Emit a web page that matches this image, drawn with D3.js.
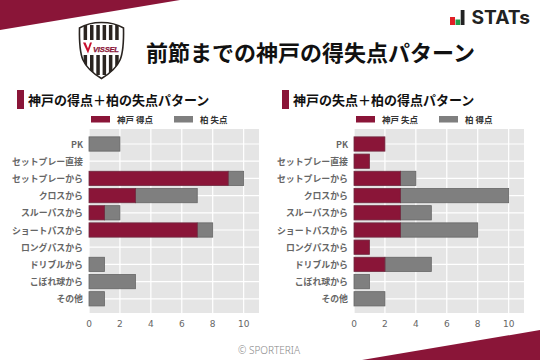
<!DOCTYPE html>
<html><head><meta charset="utf-8">
<script src="https://cdn.jsdelivr.net/npm/d3@7"></script>
<style>html,body{margin:0;padding:0;background:#fff}svg{display:block}text{font-family:"Noto Sans CJK JP","Noto Sans",sans-serif}</style>
</head><body><svg id="c" width="540" height="360"></svg>
<script>
const categories=["PK","セットプレー直接","セットプレーから","クロスから","スルーパスから","ショートパスから","ロングパスから","ドリブルから","こぼれ球から","その他"];
const xTicks=[0,2,4,6,8,10];
const leftKobe=[0,0,9,3,1,7,0,0,0,0];
const leftKashiwa=[2,0,1,4,1,1,0,1,3,1];
const rightKobe=[2,1,3,3,3,3,1,2,0,0];
const rightKashiwa=[0,0,1,7,2,5,0,3,1,2];
const maroon="#8a1538",grey="#7f7f7f";
const svg=d3.select("#c");
svg.append("path").attr("d","M0,0H180L0,30Z").attr("fill",maroon);
svg.append("path").attr("d","M540,330L362,360H540Z").attr("fill",maroon);

// crest
const crest=svg.append("g").attr("transform","translate(79,22)");
const shield="M22.5,0.5C30,0.5 38,2 44.5,6C44.8,20 44.5,30 41,38C37.5,46 30,52 22.5,56.5C15,52 7.5,46 4,38C0.5,30 0.2,20 0.5,6C7,2 15,0.5 22.5,0.5Z";
crest.append("defs").append("clipPath").attr("id","sh").append("path").attr("d",shield);
crest.append("path").attr("d",shield).attr("fill","#fff").attr("stroke","#2a2420").attr("stroke-width",1.6);
const inner=crest.append("g").attr("clip-path","url(#sh)");
[4.6,11,17.3,23.6,29.9,36.2].forEach(x=>{
  inner.append("rect").attr("x",x).attr("y",3).attr("width",3.5).attr("height",15).attr("fill","#2a2420");
  inner.append("rect").attr("x",x).attr("y",33).attr("width",3.5).attr("height",20).attr("fill","#2a2420");
});
crest.append("path").attr("d","M4,20.5L9,31.5L13,20.5L11,20.5L9,26.5L6.5,20.5Z").attr("fill","#c8102e");
crest.append("text").attr("x",14).attr("y",29.5).attr("font-size",7.6).attr("font-weight",700).attr("font-style","italic").attr("fill","#8a1538").attr("stroke","#8a1538").attr("stroke-width",0.25).attr("textLength",26).style("font-family","'Liberation Sans'").text("VISSEL");

// STATs logo
svg.append("rect").attr("x",450).attr("y",17).attr("width",5).attr("height",8).attr("fill","#e01f26");
svg.append("rect").attr("x",455.5).attr("y",19.5).attr("width",4.7).attr("height",5.5).attr("fill","#1e9e4a");
svg.append("rect").attr("x",460.7).attr("y",10).attr("width",3.8).attr("height",15).attr("fill","#222");
svg.append("text").attr("x",471.5).attr("y",24).attr("font-size",18.5).attr("font-weight",700).attr("textLength",58.5).attr("lengthAdjust","spacingAndGlyphs").attr("fill","#222").style("font-family","'Inter'").text("STATs");

svg.append("text").attr("x",146).attr("y",60.5).attr("font-size",22).attr("font-weight",700).attr("fill","#111").text("前節までの神戸の得失点パターン");
svg.append("text").attr("x",269).attr("y",354).attr("text-anchor","middle").attr("font-size",10).attr("fill","#888").style("font-family","'Noto Sans'").style("font-weight",300).text("© SPORTERIA");

function panel(ox,titleX,title,legA,legB,a,b,swA,txA,swB,txB){
  svg.append("rect").attr("x",titleX-11).attr("y",90).attr("width",7).attr("height",19).attr("fill",maroon);
  svg.append("text").attr("x",titleX).attr("y",104.5).attr("font-size",13).attr("font-weight",700).attr("fill","#111").text(title);
  [[swA,txA,legA,maroon],[swB,txB,legB,grey]].forEach(([s,t,l,c])=>{
    svg.append("rect").attr("x",s).attr("y",116).attr("width",19).attr("height",6.5).attr("fill",c);
    svg.append("text").attr("x",t).attr("y",123).attr("font-size",8.5).attr("font-weight",700).attr("fill","#333").text(l);
  });
  const x=d3.scaleLinear().domain([0,11]).range([ox,ox+170.1]);
  const y=d3.scaleBand().domain(categories).range([135.4,307.4]).paddingInner(0.17).paddingOuter(0.085);
  const top=129,bottom=313;
  const g=svg.append("g");
  g.append("rect").attr("x",ox).attr("y",top).attr("width",170).attr("height",bottom-top).attr("fill","#e5e5e5");
  g.selectAll(".gx").data(xTicks).join("line").attr("x1",d=>x(d)).attr("x2",d=>x(d)).attr("y1",top).attr("y2",bottom).attr("stroke","#fff").attr("stroke-width",1.2);
  g.selectAll(".gy").data(categories).join("line").attr("x1",ox).attr("x2",ox+170).attr("y1",d=>y(d)+y.bandwidth()/2).attr("y2",d=>y(d)+y.bandwidth()/2).attr("stroke","#fff").attr("stroke-width",1.2);
  const rows=categories.map((c,i)=>({c,a:a[i],b:b[i]}));
  const st=d3.stack().keys(["a","b"])(rows);
  const colors=[maroon,grey],edges=["#6f2a40","#666"];
  st.slice().reverse().forEach(s=>{
    const i=s.key==="a"?0:1;
    g.append("g").selectAll("rect").data(s.filter(d=>d[1]>d[0])).join("rect")
      .attr("x",d=>x(d[0])).attr("y",d=>y(d.data.c)).attr("width",d=>x(d[1])-x(d[0])).attr("height",y.bandwidth())
      .attr("fill",colors[i]).attr("stroke",edges[i]).attr("stroke-width",0.8);
  });
  const ax=g.append("g").attr("transform",`translate(0,${bottom})`).call(d3.axisBottom(x).tickValues(xTicks).tickSize(0).tickPadding(6).offset(0));
  ax.select(".domain").remove();
  ax.selectAll("text").attr("font-size",9).attr("fill","#666").attr("dy","0.85em").style("font-family","'DejaVu Sans'");
  const ay=g.append("g").attr("transform",`translate(${ox},0)`).call(d3.axisLeft(y).tickSize(0).tickPadding(6).offset(0));
  ay.select(".domain").remove();
  ay.selectAll("text").attr("font-size",8.9).attr("font-weight",700).attr("fill","#666").attr("dy","0.4em");
}
panel(89,28,"神戸の得点＋柏の失点パターン","神戸 得点","柏 失点",leftKobe,leftKashiwa,91,117,174,200);
panel(354,293,"神戸の失点＋柏の得点パターン","神戸 失点","柏 得点",rightKobe,rightKashiwa,356,382,439,465);
</script></body></html>
